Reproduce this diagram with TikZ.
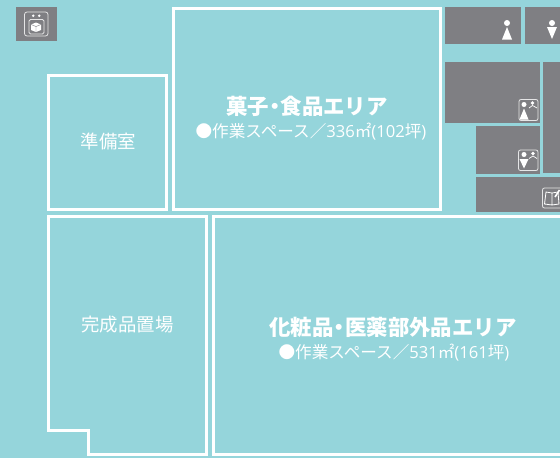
\documentclass[tikz,border=0pt]{standalone}
\usepackage{fontspec}
\setmainfont{Noto Sans CJK JP}
\newfontfamily\digitfont{Open Sans}
\definecolor{floorc}{HTML}{95D5DB}
\definecolor{grayc}{HTML}{7F7F83}
\tikzset{
  room/.style={draw=white,line width=3pt,miter limit=10},
  wc/.style={fill=grayc,draw=none},
  icb/.style={draw=white!80!grayc,line width=.8pt,rounded corners=1.6pt},
  lbl/.style={text=white,inner sep=0pt,font=\fontsize{18.4}{22}\selectfont},
  title/.style={text=white,inner sep=0pt,font=\fontsize{21.4}{24}\selectfont\bfseries},
  sub/.style={text=white,inner sep=0pt,font=\fontsize{16.6}{18}\selectfont}
}
\newcommand{\tdot}{\hspace{-.23em}・\hspace{-.23em}}
\newcommand{\dgt}[1]{{\digitfont #1}}
\newcommand{\personm}[2]{%
  \fill[white] (#1,#2-8) circle (3);
  \fill[white] (#1-5,#2-4) -- (#1+5,#2-4) -- (#1,#2+8) -- cycle;}
\newcommand{\personf}[2]{%
  \fill[white] (#1,#2-8) circle (3);
  \fill[white] (#1,#2-4) -- (#1+5,#2+8.5) -- (#1-5,#2+8.5) -- cycle;}
\begin{document}
\begin{tikzpicture}[x=1pt,y=-1pt]
\fill[floorc] (0,0) rectangle (560,458);
\useasboundingbox (0,0) rectangle (560,458);
% gray blocks
\fill[wc] (16,7) rectangle (57,41);
\fill[wc] (445,7) rectangle (521,44);
\fill[wc] (525,7) rectangle (560,44);
\fill[wc] (445,62) rectangle (540,123);
\fill[wc] (543,62) rectangle (560,173);
\fill[wc] (476,126) rectangle (540,173.5);
\fill[wc] (476,177) rectangle (560,212);
% rooms
\draw[room] (48,75) rectangle (166.5,209.5);
\draw[room] (173.5,8.5) rectangle (440,209.5);
\draw[room] (48,216.5) -- (206.7,216.5) -- (206.7,454) -- (88.7,454) -- (88.7,430.5) -- (48,430.5) -- cycle;
\draw[room] (562,216.5) -- (213.3,216.5) -- (213.3,454) -- (562,454);
% washer icon
\draw[icb,rounded corners=2.5pt] (24.5,12) rectangle (48,36);
\draw[icb,rounded corners=1.5pt] (29,19.5) rectangle (44,34);
\fill[white] (33.3,15.7) circle (1.4) (39.3,15.7) circle (1.4);
\fill[white] (36,22.5) -- (41,24.5) -- (41,30) -- (36,32) -- (31,30) -- (31,24.5) -- cycle;
\draw[grayc,line width=.4pt] (31,24.5) -- (36,26.5) -- (41,24.5) (36,26.5) -- (36,32);
% toilet signs
\personf{507}{31}
\personm{552}{31}
% icon 1
\draw[icb,rounded corners=2pt] (519,99.5) rectangle (538,120.5);
\fill[white] (524,104.5) circle (2.5);
\fill[white] (524,108.5) -- (528.5,119.5) -- (519.5,119.5) -- cycle;
\fill[white] (532.5,103) circle (1.8);
\draw[white,line width=.7pt] (529,108) -- (532.5,105.5) -- (537,108);
% icon 2
\draw[icb,rounded corners=2pt] (518.5,150) rectangle (538,170.5);
\fill[white] (524,154.5) circle (2.5);
\fill[white] (519.5,159) -- (528.5,159) -- (524,168.5) -- cycle;
\fill[white] (533,153.5) circle (1.8);
\draw[white,line width=.7pt] (529,158.5) -- (533,156) -- (537,158.5);
% icon 3: book
\draw[icb,rounded corners=2pt] (542.5,188) rectangle (562,208);
\draw[white,line width=.8pt] (552,193) -- (546,192) -- (544.5,204) -- (552,205) -- (559,204) -- (558,192) -- cycle (552,193) -- (552,205);
\draw[white,line width=1.6pt] (555,197) -- (559.5,190);
% labels
\node[lbl] (prep) at (108.5,141) {準備室};
\node[lbl] (comp) at (127.5,325) {完成品置場};
\node[title] (t1) at (307,106) {菓子\tdot 食品エリア};
\node[sub] (s1) at (311,132) {●作業スペース／\dgt{336}㎡\dgt{(102}坪\dgt{)}};
\node[title] (t2) at (393,327.5) {化粧品\tdot 医薬部外品エリア};
\node[sub] (s2) at (394,353) {●作業スペース／\dgt{531}㎡\dgt{(161}坪\dgt{)}};
\end{tikzpicture}
\end{document}
